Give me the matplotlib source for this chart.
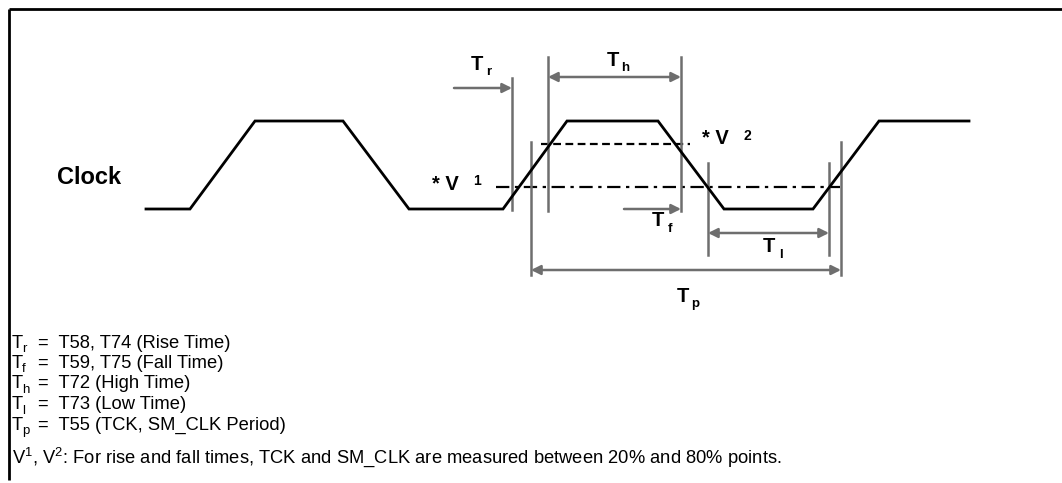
import matplotlib
matplotlib.use("Agg")
import matplotlib.pyplot as plt

FONT = "Liberation Sans"
plt.rcParams["mathtext.fontset"] = "custom"
plt.rcParams["mathtext.rm"] = FONT

# waveform corners (x in px, level 0 = low, 1 = high)
clock_x = [146, 190, 255, 343, 409, 503, 567, 658, 724, 813, 879, 969]
clock_lv = [0, 0, 1, 1, 0, 0, 1, 1, 0, 0, 1, 1]
LOW, HIGH = 209, 121

# threshold lines: (y, x0, x1)
v1_line = (187, 496, 840)
v2_line = (144, 541, 690)

# measurement markers: name -> (x positions, y top, y bottom, arrow y)
markers = {
    "Th": ([548, 681], 57, 211, 77),
    "Tp": ([531, 841], 142, 275, 270),
    "Tl": ([708, 829], 163, 255, 233),
}
tr_vline = (512, 78, 210)
tr_arrow = (454, 512, 88)
tf_arrow = (624, 681, 209)

legend_lines = [
    ("T", "r", "=  T58, T74 (Rise Time)"),
    ("T", "f", "=  T59, T75 (Fall Time)"),
    ("T", "h", "=  T72 (High Time)"),
    ("T", "l", "=  T73 (Low Time)"),
    ("T", "p", "=  T55 (TCK, SM_CLK Period)"),
]
note = ": For rise and fall times, TCK and SM_CLK are measured between 20% and 80% points."

GRAY = "#6e6e6e"

fig = plt.figure(figsize=(10.62, 4.83), dpi=100)
ax = fig.add_axes([0, 0, 1, 1])
ax.set_xlim(0, 1062)
ax.set_ylim(483, 0)
ax.axis("off")

# frame (top and left only)
ax.plot([9, 1062], [9, 9], color="black", lw=2, solid_capstyle="butt")
ax.plot([9, 9], [9, 480], color="black", lw=2, solid_capstyle="butt")

# clock waveform
ys = [HIGH if v else LOW for v in clock_lv]
ax.plot(clock_x, ys, color="black", lw=2, solid_joinstyle="miter", zorder=3)

# thresholds
ax.plot([v1_line[1], v1_line[2]], [v1_line[0]] * 2, color="black", lw=1.6,
        linestyle=(0, (6, 2.5, 1.5, 2.5)), zorder=2)
ax.plot([v2_line[1], v2_line[2]], [v2_line[0]] * 2, color="black", lw=1.6,
        linestyle=(0, (3.5, 2)), zorder=2)

arrow_kw = dict(color=GRAY, lw=1.8, shrinkA=0, shrinkB=0, mutation_scale=14)

for name, (xs, y0, y1, ya) in markers.items():
    for x in xs:
        ax.plot([x, x], [y0, y1], color=GRAY, lw=1.8)
    ax.annotate("", xy=(xs[1], ya), xytext=(xs[0], ya),
                arrowprops=dict(arrowstyle="<|-|>", **arrow_kw))

ax.plot([tr_vline[0]] * 2, [tr_vline[1], tr_vline[2]], color=GRAY, lw=1.8)
ax.annotate("", xy=(tr_arrow[1], tr_arrow[2]), xytext=(tr_arrow[0], tr_arrow[2]),
            arrowprops=dict(arrowstyle="-|>", **arrow_kw))
ax.annotate("", xy=(tf_arrow[1], tf_arrow[2]), xytext=(tf_arrow[0], tf_arrow[2]),
            arrowprops=dict(arrowstyle="-|>", **arrow_kw))


def tlabel(x, y, sub):
    ax.text(x, y, "T", fontsize=14.5, fontweight="bold", family=FONT,
            ha="center", va="center")
    ax.text(x + 12, y + 8, sub, fontsize=9.5, fontweight="bold", family=FONT,
            ha="center", va="center")


tlabel(477, 64, "r")
tlabel(613, 60, "h")
tlabel(658, 221, "f")
tlabel(769, 247, "l")
tlabel(683, 296, "p")


def vlabel(x, y, sup):
    ax.text(x, y, "* V", fontsize=14.5, fontweight="bold", family=FONT,
            ha="left", va="center")
    ax.text(x + 41, y - 3, sup, fontsize=10, fontweight="bold", family=FONT,
            ha="left", va="center")


vlabel(432, 184, "1")
vlabel(702, 139, "2")

ax.text(57, 177, "Clock", fontsize=17, fontweight="bold", family=FONT,
        ha="left", va="center")

# legend block
y = 343
for main, sub, rest in legend_lines:
    ax.text(12, y, main, fontsize=13.2, family=FONT, ha="left", va="center")
    ax.text(22, y + 6, sub, fontsize=9.5, family=FONT, ha="left", va="center")
    ax.text(38, y, rest, fontsize=13.2, family=FONT, ha="left", va="center")
    y += 20.5

ax.text(12, 457, r"V$^{1}$, V$^{2}$" + note, fontsize=13.2, family=FONT,
        ha="left", va="center")

fig.savefig("out.png", dpi=100)
